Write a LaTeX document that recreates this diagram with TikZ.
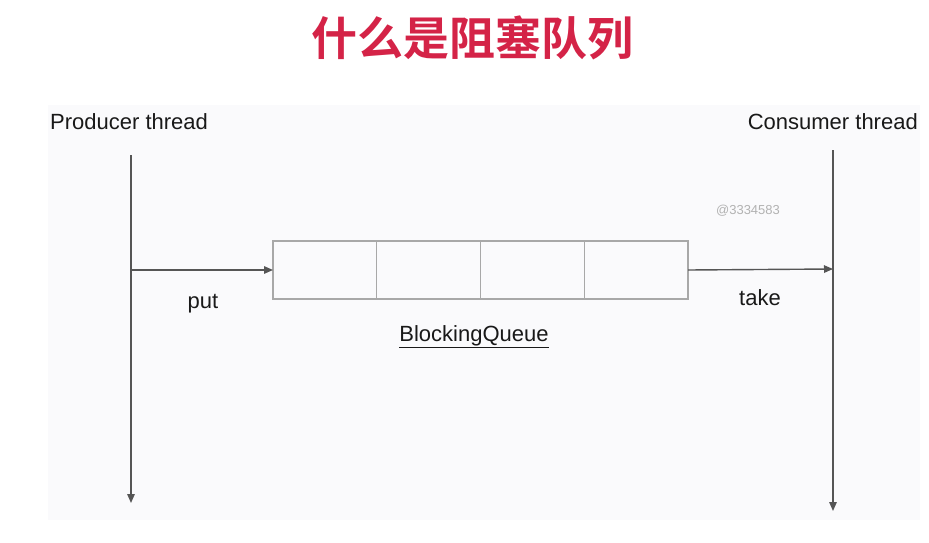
\documentclass[tikz,border=0pt]{standalone}
\usepackage{fontspec}
\setmainfont{Liberation Sans}
\newfontfamily\cjk{Noto Sans CJK SC Bold}
\usetikzlibrary{positioning,arrows.meta}
\definecolor{titlered}{HTML}{D42347}
\definecolor{panel}{HTML}{FAFAFC}
\definecolor{wire}{HTML}{555555}
\definecolor{cellline}{HTML}{A8A8A8}
\tikzset{
  wire/.style={draw=wire, line width=1.4pt, -{Triangle[length=9pt,width=7.5pt]}},
  cell/.style={draw=cellline, line width=1.3pt, minimum width=103.75pt, minimum height=58pt, inner sep=0pt, outer sep=0pt},
  label/.style={inner sep=0pt, font=\fontsize{22}{26}\selectfont, text=black!90}
}
\begin{document}
\begin{tikzpicture}[x=1pt,y=-1pt]
\useasboundingbox (0,0) rectangle (929,543);
\fill[panel] (48,105) rectangle (920,520);
% title
\node[inner sep=0pt, text=titlered, font=\cjk\fontsize{46}{50}\selectfont] (title) at (472,38) {什么是阻塞队列};
% threads
\node[label, anchor=west] (prod) at (50,122) {Producer thread};
\node[label, anchor=east] (cons) at (918,122) {Consumer thread};
\coordinate (ptop) at (131,155);
\coordinate (pbot) at (131,503);
\coordinate (ctop) at (833,150);
\coordinate (cbot) at (833,511);
\draw[wire] (ptop) -- (pbot);
\draw[wire] (ctop) -- (cbot);
% the queue
\node[cell] (q1) at (324.9,270) {};
\foreach \i [remember=\i as \j (initially 1)] in {2,3,4}
  \node[cell, right=0pt of q\j] (q\i) {};
\node[label, anchor=center] (bq) at (474,337) {\underline{BlockingQueue}};
% put / take
\coordinate (pput) at (131,270);
\coordinate (ctake) at (833,269);
\draw[wire] (pput) -- (q1.west);
\draw[wire] (q4.east) -- (ctake);
\node[label] (put) at (203,304) {put};
\node[label] (take) at (760,298) {take};
% watermark
\node[inner sep=0pt, text=black!30, font=\fontsize{13}{15}\selectfont] (mark) at (748,211) {@3334583};
\end{tikzpicture}
\end{document}
